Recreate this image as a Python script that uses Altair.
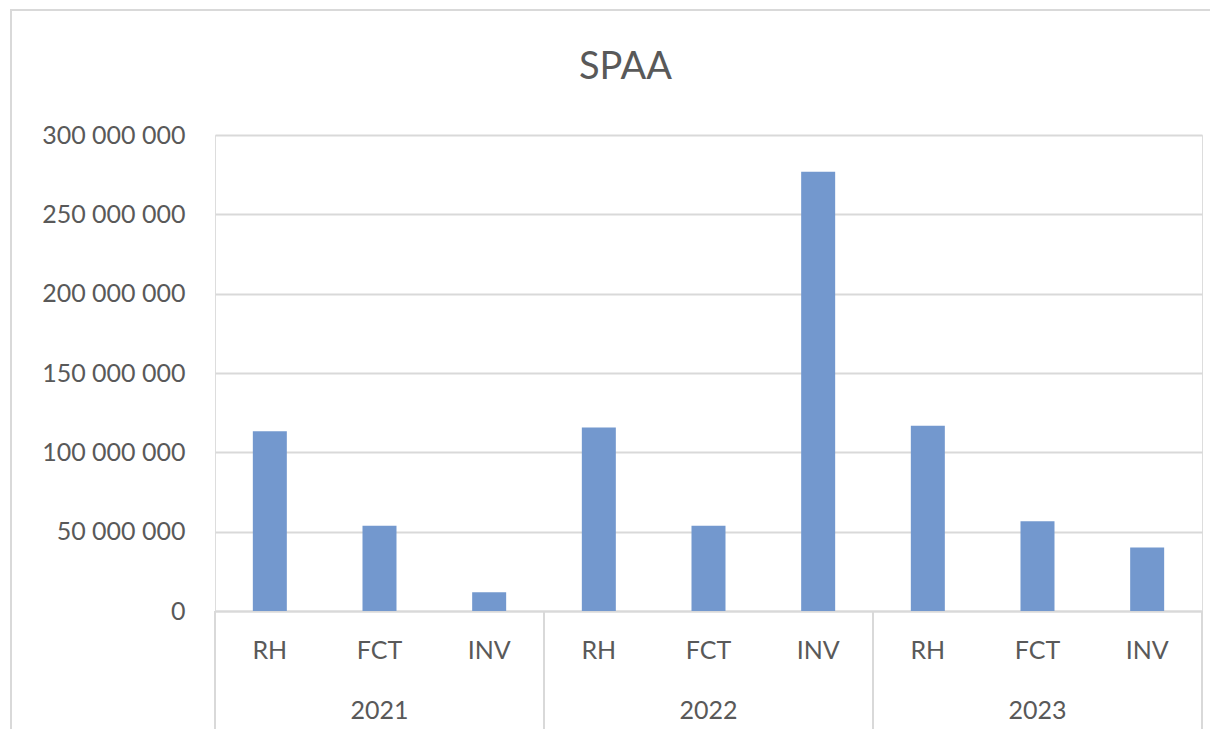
import altair as alt
import pandas as pd

years = ["2021", "2022", "2023"]
categories = ["RH", "FCT", "INV"]
values_2021 = [113_300_000, 53_800_000, 11_800_000]
values_2022 = [115_600_000, 53_800_000, 276_900_000]
values_2023 = [116_800_000, 56_500_000, 40_000_000]
y_ticks = [0, 50_000_000, 100_000_000, 150_000_000, 200_000_000, 250_000_000, 300_000_000]

rows = []
for yr, vals in zip(years, [values_2021, values_2022, values_2023]):
    for c, v in zip(categories, vals):
        rows.append({"year": yr, "cat": c, "key": f"{yr}-{c}", "value": v})
df = pd.DataFrame(rows)
order = list(df["key"])

W, H = 987, 476
GRAY = "#d9d9d9"
TEXT = "#595959"
BAR = "#7398ce"
FONT = "Lato"


def xenc(band=0.5):
    return alt.X(
        "key:N",
        sort=order,
        bandPosition=band,
        scale=alt.Scale(domain=order, paddingInner=0, paddingOuter=0),
        axis=alt.Axis(
            title=None,
            labelExpr="split(datum.value, '-')[1]",
            labelAngle=0,
            ticks=False,
            domainColor=GRAY,
            domainWidth=2,
            labelFontSize=25,
            labelColor=TEXT,
            labelPadding=27,
            labelFont=FONT,
            grid=False,
        ),
    )


yenc = alt.Y(
    "value:Q",
    scale=alt.Scale(domain=[0, 300_000_000], nice=False),
    axis=alt.Axis(
        values=y_ticks,
        labelExpr="replace(format(datum.value, ','), regexp(',', 'g'), ' ')",
        title=None,
        domain=False,
        ticks=False,
        grid=True,
        gridColor=GRAY,
        gridWidth=2,
        labelFontSize=25,
        labelColor=TEXT,
        labelPadding=30,
        labelFont=FONT,
    ),
)

base = alt.Chart(df)

bars = base.mark_bar(width=alt.RelativeBandSize(0.31), color=BAR).encode(
    x=xenc(), y=yenc
)

sep_start = base.transform_filter(alt.datum.cat == "RH").mark_rule(
    color=GRAY, strokeWidth=2
).encode(x=xenc(0), y=alt.value(H), y2=alt.value(H + 120))

sep_end = base.transform_filter(alt.datum.key == "2023-INV").mark_rule(
    color=GRAY, strokeWidth=2
).encode(x=xenc(1), y=alt.value(H), y2=alt.value(H + 120))

year_labels = base.transform_filter(alt.datum.cat == "FCT").mark_text(
    fontSize=25, color=TEXT, font=FONT, baseline="middle"
).encode(x=xenc(0.5), y=alt.value(H + 100), text="year:N")

one = pd.DataFrame({"f": [0]})
frame_top = alt.Chart(one).mark_rule(color=GRAY, strokeWidth=2).encode(
    x=alt.value(-204), x2=alt.value(W + 8), y=alt.value(-125)
)
frame_left = alt.Chart(one).mark_rule(color=GRAY, strokeWidth=2).encode(
    x=alt.value(-204), y=alt.value(-126), y2=alt.value(H + 125)
)

chart = (
    alt.layer(frame_top, frame_left, bars, sep_start, sep_end, year_labels)
    .properties(
        width=W,
        height=H,
        autosize=alt.AutoSizeParams(type="none"),
        padding={"left": 207, "top": 127, "right": 8, "bottom": 118},
        title=alt.TitleParams(
            "SPAA",
            fontSize=38,
            color=TEXT,
            font=FONT,
            fontWeight="normal",
            anchor="middle",
            dx=-83,
            offset=-79,
        ),
    )
    .configure_view(stroke=None)
    .configure(background="white")
)

chart.save("out.html", embed_options={"renderer": "svg", "actions": False})
